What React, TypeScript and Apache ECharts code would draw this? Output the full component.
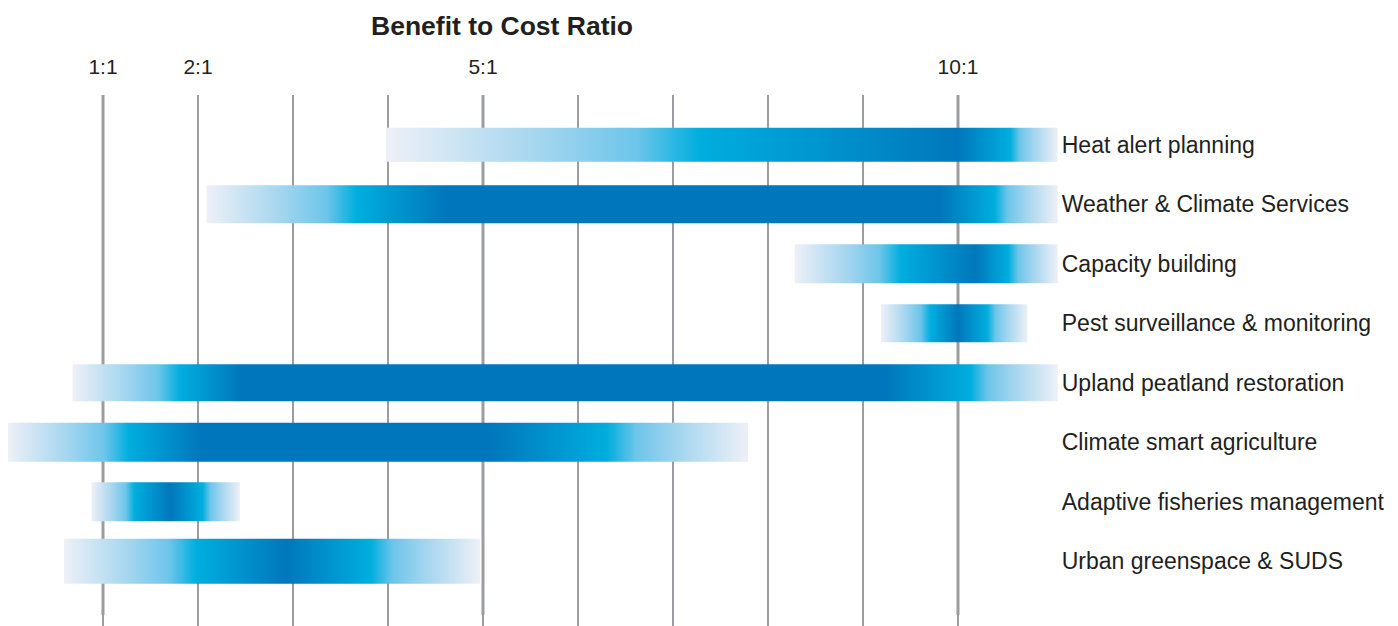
import React, { useEffect, useRef } from "react";
import * as echarts from "echarts";

// ---- data ----
const categories = [
  "Heat alert planning",
  "Weather & Climate Services",
  "Capacity building",
  "Pest surveillance & monitoring",
  "Upland peatland restoration",
  "Climate smart agriculture",
  "Adaptive fisheries management",
  "Urban greenspace & SUDS",
];
// benefit-to-cost ratio range per measure (outer faded ends)
const rangeLow = [3.98, 2.09, 8.28, 9.19, 0.68, 0.0, 0.88, 0.59];
const rangeHigh = [11.05, 11.05, 11.05, 10.73, 11.05, 7.79, 2.44, 4.97];
// where the colour reaches mid blue
const midLow = [7.28, 3.67, 9.4, 9.71, 1.81, 1.27, 1.33, 1.98];
const midHigh = [10.55, 10.39, 10.53, 10.31, 10.13, 6.31, 2.05, 3.82];
// core (darkest) span
const coreLow = [10.0, 4.61, 10.18, 10.0, 2.44, 2.02, 1.71, 2.93];
const coreHigh = [10.0, 9.82, 10.18, 10.0, 9.25, 5.08, 1.71, 2.93];

const gridValues = [1, 2, 3, 4, 5, 6, 7, 8, 9, 10];
const majorValues = [1, 5, 10];
const tickLabelValues = [1, 2, 5, 10];
const axisMax = 11.05;

// ---- styles ----
const barThickness = [34, 38, 39, 38, 37, 39, 39, 45];
const LIGHT = "#eef0f7";
const CYAN = "#00aede";
const DARK = "#0077bc";
// fade ramp from light end (t=0) to cyan (t=1)
const RAMP: [number, string][] = [
  [0, LIGHT],
  [0.5, "#a3d5ef"],
  [0.8, "#6cc5ea"],
  [1, CYAN],
];
const TEXT = "#231f20";
const GRID = "#9b9da1";
const FONT = "'Liberation Sans', Arial, Helvetica, sans-serif";

export default function App() {
  const ref = useRef<HTMLDivElement>(null);

  useEffect(() => {
    if (!ref.current) return;
    const chart = echarts.init(ref.current, null, { renderer: "svg" });

    const barData = categories.map((_, i) => [
      i,
      rangeLow[i],
      midLow[i],
      coreLow[i],
      coreHigh[i],
      midHigh[i],
      rangeHigh[i],
    ]);

    const option: any = {
      animation: false,
      backgroundColor: "#ffffff",
      title: {
        text: "Benefit to Cost Ratio",
        left: 366,
        top: 7,
        textStyle: {
          fontFamily: FONT,
          fontSize: 26.5,
          fontWeight: "bold",
          color: TEXT,
        },
      },
      grid: {
        left: 8,
        top: 115,
        width: 95 * axisMax,
        height: 476,
        containLabel: false,
      },
      xAxis: {
        type: "value",
        position: "top",
        min: 0,
        max: axisMax,
        interval: 1,
        axisLine: { show: false },
        axisTick: { show: false },
        splitLine: { show: false },
        axisLabel: {
          margin: 38,
          fontFamily: FONT,
          fontSize: 21,
          color: TEXT,
          showMaxLabel: false,
          formatter: (v: number) =>
            tickLabelValues.indexOf(v) >= 0 ? `${v}:1` : "",
        },
      },
      yAxis: {
        type: "category",
        data: categories,
        inverse: true,
        position: "right",
        axisLine: { show: false },
        axisTick: { show: false },
        splitLine: { show: false },
        axisLabel: {
          margin: 4,
          fontFamily: FONT,
          fontSize: 23,
          color: TEXT,
          align: "left",
        },
      },
      series: [
        {
          type: "custom",
          name: "gridlines",
          clip: false,
          silent: true,
          z: 1,
          data: gridValues.map((v) => [v]),
          encode: { x: 0 },
          renderItem: (params: any, api: any) => {
            const v = api.value(0);
            const x = api.coord([v, 0])[0];
            const cs = params.coordSys;
            const top = cs.y - 20;
            const bottom = cs.y + cs.height + 36;
            const major = majorValues.indexOf(v) >= 0;
            const children: any[] = [
              {
                type: "line",
                shape: { x1: x, y1: top, x2: x, y2: bottom },
                style: { stroke: GRID, lineWidth: 2 },
              },
            ];
            if (major) {
              children.push({
                type: "line",
                shape: { x1: x, y1: top, x2: x, y2: cs.y + cs.height + 24 },
                style: { stroke: GRID, lineWidth: 3 },
              });
            }
            return { type: "group", children };
          },
        },
        {
          type: "custom",
          name: "ranges",
          clip: false,
          z: 2,
          data: barData,
          encode: { x: [1, 6], y: 0 },
          renderItem: (params: any, api: any) => {
            const idx = api.value(0);
            const vals = [1, 2, 3, 4, 5, 6].map((d) => api.value(d));
            const pts = vals.map((v: number) => api.coord([v, idx]));
            const x0 = pts[0][0];
            const x1 = pts[5][0];
            const cy = pts[0][1];
            const w = x1 - x0;
            const h = barThickness[idx];
            const off = (p: number[]) =>
              Math.min(1, Math.max(0, (p[0] - x0) / w));
            const o1 = off(pts[1]);
            const o4 = off(pts[4]);
            const stops: any[] = [];
            RAMP.forEach(([t, c]) => stops.push({ offset: o1 * t, color: c }));
            stops.push({ offset: off(pts[2]), color: DARK });
            stops.push({ offset: off(pts[3]), color: DARK });
            RAMP.slice()
              .reverse()
              .forEach(([t, c]) =>
                stops.push({ offset: 1 - (1 - o4) * t, color: c })
              );
            return {
              type: "rect",
              shape: { x: x0, y: cy - h / 2, width: w, height: h },
              style: {
                fill: new echarts.graphic.LinearGradient(0, 0, 1, 0, stops),
              },
            };
          },
        },
      ],
    };

    chart.setOption(option);
    return () => chart.dispose();
  }, []);

  return (
    <div
      ref={ref}
      style={{
        position: "absolute",
        left: 0,
        top: 0,
        width: 1398,
        height: 626,
        background: "#fff",
      }}
    />
  );
}
